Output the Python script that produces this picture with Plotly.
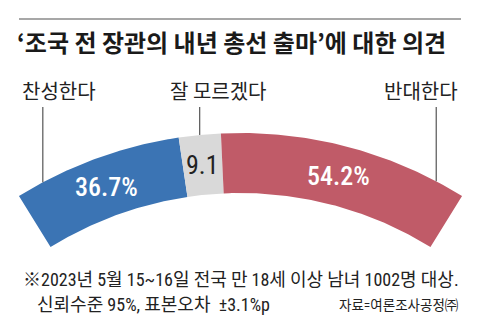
import numpy as np
import plotly.graph_objects as go

# Survey responses
categories = ["찬성한다", "잘 모르겠다", "반대한다"]
values = [36.7, 9.1, 54.2]
value_labels = ["36.7%", "9.1", "54.2%"]

title_text = "‘조국 전 장관의 내년 총선 출마’에 대한 의견"
note_lines = [
    "※2023년 5월 15~16일 전국 만 18세 이상 남녀 1002명 대상.",
    "신뢰수준 95%, 표본오차  ±3.1%p",
]
source_text = "자료=여론조사공정㈜"

# Styling
colors = ["#3b74b4", "#d9d9d9", "#c05b68"]
value_colors = ["#ffffff", "#222222", "#ffffff"]
value_weights = [500, 400, 500]
leader_angles = [-28.0, None, 27.7]          # None -> middle of the segment
cat_x = [20, 218, 460]
cat_anchor = ["left", "center", "right"]

W, H = 480, 331
CX, CY = 240.5, 554.0        # centre of the arc (pixels from top-left)
R_OUT, R_IN = 421.0, 361.0   # outer / inner radius in pixels
SPAN = 63.5                  # degrees covered by the full 100%
NARROW = "Liberation Sans Narrow, Roboto Condensed, Arial Narrow, Noto Sans CJK KR"
KR = "Noto Sans CJK KR"


def polar_xy(r, deg):
    a = np.radians(deg)
    return r * np.sin(a), r * np.cos(a)


def px_y(ypx):
    return CY - ypx


total = sum(values)
scale = SPAN / total
start = -SPAN / 2

fig = go.Figure()
annotations = []
shapes = []

cum = start
for cat, v, lab, col, vcol, vw, lang in zip(
        categories, values, value_labels, colors, value_colors, value_weights, leader_angles):
    a0, a1 = cum, cum + v * scale
    cum = a1
    ang = np.linspace(a0, a1, 80)
    xo, yo = polar_xy(R_OUT, ang)
    xi, yi = polar_xy(R_IN, ang[::-1])
    fig.add_trace(go.Scatter(
        x=np.concatenate([xo, xi, xo[:1]]),
        y=np.concatenate([yo, yi, yo[:1]]),
        mode="lines", fill="toself", fillcolor=col,
        line=dict(width=0, color=col), hoverinfo="skip", showlegend=False,
    ))
    mid = (a0 + a1) / 2
    tx, ty = polar_xy((R_OUT + R_IN) / 2, mid)
    annotations.append(dict(
        x=tx, y=ty, xref="x", yref="y", text=lab, showarrow=False,
        font=dict(family=NARROW, size=26, color=vcol, weight=vw),
        xanchor="center", yanchor="middle",
    ))
    la = mid if lang is None else lang
    lx, ly = polar_xy(R_OUT, la)
    shapes.append(dict(type="line", xref="x", yref="y",
                       x0=lx, x1=lx, y0=ly, y1=px_y(107),
                       line=dict(color="#333333", width=1)))

for cat, x, anc in zip(categories, cat_x, cat_anchor):
    annotations.append(dict(
        x=x - CX, y=px_y(90), xref="x", yref="y", text=cat, showarrow=False,
        font=dict(family=KR, size=20, color="#222222"),
        xanchor=anc, yanchor="middle",
    ))

# Title and rule above it
shapes.append(dict(type="line", xref="x", yref="y",
                   x0=19 - CX, x1=461 - CX, y0=px_y(19), y1=px_y(19),
                   line=dict(color="#8a8a8a", width=1.5)))
annotations.append(dict(
    x=15 - CX, y=px_y(41), xref="x", yref="y", text=title_text, showarrow=False,
    font=dict(family=KR, size=24, color="#1a1a1a", weight=700),
    xanchor="left", yanchor="middle",
))

# Footnotes
annotations.append(dict(
    x=21 - CX, y=px_y(279), xref="x", yref="y", text=note_lines[0], showarrow=False,
    font=dict(family=NARROW, size=18, color="#222222"),
    xanchor="left", yanchor="middle",
))
annotations.append(dict(
    x=35 - CX, y=px_y(304), xref="x", yref="y", text=note_lines[1], showarrow=False,
    font=dict(family=NARROW, size=18, color="#222222"),
    xanchor="left", yanchor="middle",
))
annotations.append(dict(
    x=461 - CX, y=px_y(305), xref="x", yref="y", text=source_text, showarrow=False,
    font=dict(family=NARROW, size=13.5, color="#222222"),
    xanchor="right", yanchor="middle",
))

fig.update_layout(
    width=W, height=H,
    margin=dict(l=0, r=0, t=0, b=0),
    paper_bgcolor="white", plot_bgcolor="white",
    xaxis=dict(range=[-CX, W - CX], visible=False, fixedrange=True),
    yaxis=dict(range=[CY - H, CY], visible=False, fixedrange=True),
    shapes=shapes, annotations=annotations,
    showlegend=False,
)

fig.write_html("out.html")
